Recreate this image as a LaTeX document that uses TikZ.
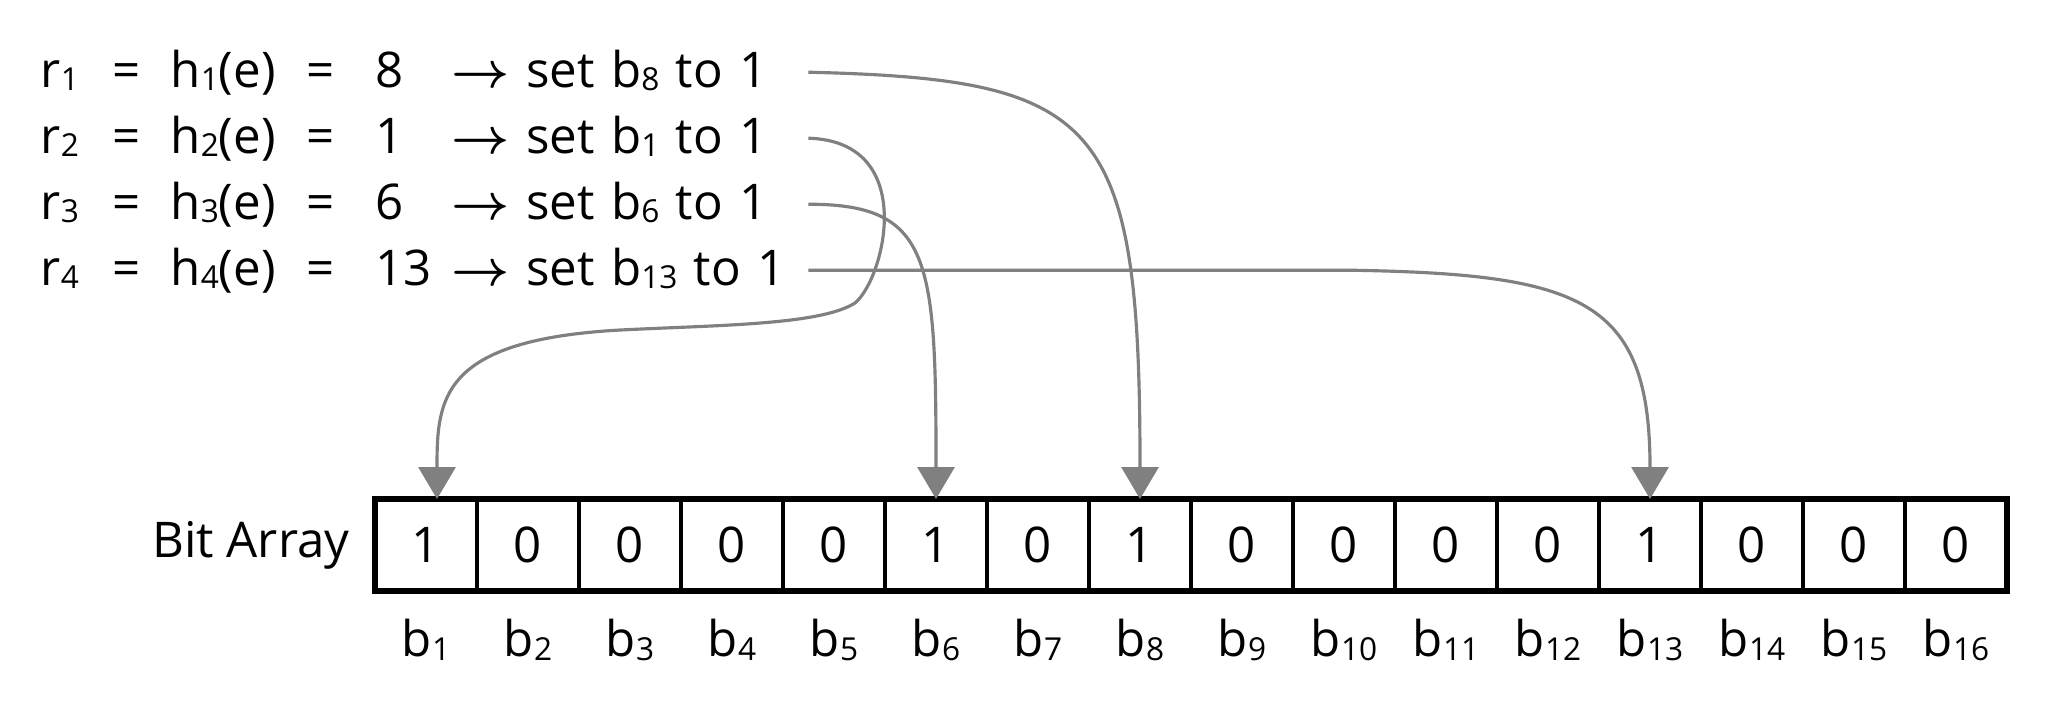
\documentclass[tikz,border=0pt]{standalone}
\usepackage{fontspec}
\setmainfont{Open Sans}
\usetikzlibrary{arrows.meta,positioning}
\definecolor{linkgray}{RGB}{128,128,128}
% small subscript, close to the baseline
\newcommand{\sub}[1]{\raisebox{-0.15ex}{\fontsize{9}{10}\selectfont #1}}
% one line of the hash list: index, value, bit
\newcommand{\hashrow}[3]{\mbox{\makebox[0.72cm][l]{r\sub{#1}}\makebox[0.58cm][l]{=}\makebox[1.36cm][l]{h\sub{#1}(e)}\makebox[0.69cm][l]{=}\makebox[0.76cm][l]{#2}$\boldsymbol{\rightarrow}$ set b\sub{#3} to 1}}
\usepackage{amsmath}

\begin{document}
\begin{tikzpicture}[>={Triangle[length=3.2mm,width=3.7mm]}, every node/.style={font=\fontsize{14}{17}\selectfont}]
\tikzstyle{cell}=[draw, line width=1pt, minimum width=1.02cm, minimum height=0.92cm, inner sep=0pt, outer sep=0pt]
\tikzstyle{row}=[anchor=base west, inner sep=0pt, text width=7.67cm, align=left]
\tikzstyle{lbl}=[inner sep=0pt]
\tikzstyle{link}=[->, draw=linkgray, line width=0.9pt]
\useasboundingbox (0,0) rectangle (20.68,-7.06);
% hash values
\node[row] (r1) at (0.40,-0.87) {\hashrow{1}{8}{8}};
\node[row] (r2) at (0.40,-1.53) {\hashrow{2}{1}{1}};
\node[row] (r3) at (0.40,-2.19) {\hashrow{3}{6}{6}};
\node[row] (r4) at (0.40,-2.85) {\hashrow{4}{13}{13}};
% bit array
\foreach \v [count=\i] in {1,0,0,0,0,1,0,1,0,0,0,0,1,0,0,0} {
  \node[cell] (c\i) at ({3.24+1.02*\i},-5.45) {\v};
  \node[lbl, below=0.27cm of c\i] (b\i) {b\sub{\i}};
}
\draw[line width=1.5pt] (c1.north west) rectangle (c16.south east);
\node[lbl, left=0.25cm of c1] (bitarray) {Bit Array};
% arrows
\draw[link] (r1.east) .. controls +(2.93,-0.07) and +(0,3.8) .. (c8.north);
\draw[link] (r2.east) .. controls +(1.10,-0.03) and +(0.30,0.25) .. (8.55,-3.03)
  .. controls +(-0.35,-0.22) and +(1.0,0.05) .. (6.20,-3.30)
  .. controls +(-1.8,-0.1) and +(0,1.0) .. ([xshift=0.11cm]c1.north);
\draw[link] (r3.east) .. controls +(1.23,0) and +(0,2.4) .. (c6.north);
\draw[link] (r4.east) -- ++(5.43,0) .. controls +(2.3,-0.04) and +(0,2.0) .. (c13.north);
\end{tikzpicture}
\end{document}
